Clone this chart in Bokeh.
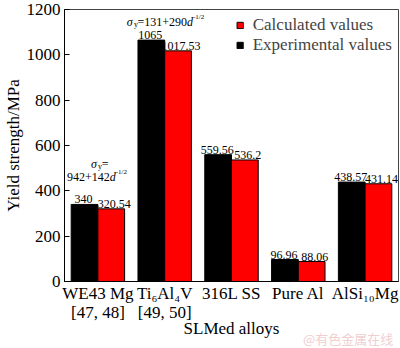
from bokeh.plotting import figure
from bokeh.models import Legend, LegendItem, FixedTicker, Range1d, FactorRange, Div
from bokeh.layouts import column
from bokeh.transform import dodge
from bokeh.core.properties import value
from bokeh.embed import file_html
from bokeh.resources import INLINE

# ---- data ----
categories = ["WE43 Mg", "Ti6Al4V", "316L SS", "Pure Al", "AlSi10Mg"]
tick_labels = ["WE43 Mg\n[47, 48]", "Ti\u2086Al\u2084V\n[49, 50]", "316L SS", "Pure Al", "AlSi\u2081\u2080Mg"]
experimental = [340, 1065, 559.56, 96.96, 438.57]
calculated = [320.54, 1017.53, 536.2, 88.06, 431.14]
y_ticks = [0, 200, 400, 600, 800, 1000, 1200]

FONT = "Liberation Serif"

p = figure(width=400, height=348, x_range=FactorRange(*tick_labels, range_padding=0),
           y_range=Range1d(0, 1200), output_backend="svg", toolbar_location=None,
           min_border_left=58, min_border_right=2, min_border_top=9, min_border_bottom=67)
p.x_range.factor_padding = 0

src = dict(cat=tick_labels, exp=experimental, calc=calculated,
           exp_lab=[f"{v:g}" for v in experimental], calc_lab=[f"{v:g}" for v in calculated])

r_exp = p.vbar(x=dodge("cat", -0.2, range=p.x_range), top="exp", width=0.4, source=src,
               fill_color="black", line_color="black", line_width=1)
r_calc = p.vbar(x=dodge("cat", 0.2, range=p.x_range), top="calc", width=0.4, source=src,
                fill_color="#ff0000", line_color="black", line_width=1)

p.text(x=dodge("cat", -0.2, range=p.x_range), y="exp", text="exp_lab", source=src,
       text_font=value(FONT), text_font_size="12px", text_align="center",
       text_baseline="bottom", x_offset=-1, y_offset=-1, text_color="black")
p.text(x=dodge("cat", 0.2, range=p.x_range), y="calc", text="calc_lab", source=src,
       text_font=value(FONT), text_font_size="12px", text_align="center",
       text_baseline="bottom", x_offset=3, y_offset=-1, text_color="black")

# ---- equations (sigma_y = a + b d^-1/2) ----
W = {"0": .5, "1": .5, "2": .5, "3": .5, "4": .5, "5": .5, "6": .5, "7": .5, "8": .5, "9": .5,
     "=": .564, "+": .564, "-": .333, "/": .278, "σ": .6, "y": .444, "d": .5}

def tw(t, s):
    return sum(W.get(c, .5) for c in t) * s

def equation(cat, yv, x0, y0, parts):
    cx = x0
    for txt, size, style, dy in parts:
        p.text(x=[cat], y=[yv], text=[txt], x_offset=cx, y_offset=y0 + dy,
               text_font=value(FONT), text_font_size=f"{size}px", text_font_style=style,
               text_align="left", text_baseline="alphabetic", text_color="black")
        cx += tw(txt, size)

equation(tick_labels[1], experimental[1], -38, -18,
         [("σ", 12, "italic", 0), ("y", 8, "normal", 2), ("=131+290", 12, "normal", 0),
          ("d", 12, "italic", 0), ("-1/2", 7, "normal", -5)])
equation(tick_labels[0], experimental[0], -7, -40,
         [("σ", 12, "italic", 0), ("y", 8, "normal", 2), ("=", 12, "normal", 0)])
equation(tick_labels[0], experimental[0], -31, -27,
         [("942+142", 12, "normal", 0), ("d", 12, "italic", 0), ("-1/2", 7, "normal", -5)])

# ---- axes ----
p.xgrid.visible = False
p.ygrid.visible = False
p.outline_line_color = "#444444"
p.outline_line_width = 1

p.yaxis.ticker = FixedTicker(ticks=y_ticks)
p.yaxis.minor_tick_line_color = None
p.yaxis.major_tick_in = 5
p.yaxis.major_tick_out = 0
p.yaxis.major_label_standoff = 4
p.yaxis.axis_label = "Yield strength/MPa"
p.yaxis.axis_label_standoff = 1

p.xaxis.major_tick_line_color = None
p.xaxis.minor_tick_line_color = None
p.xaxis.major_tick_in = 0
p.xaxis.major_tick_out = 0
p.xaxis.major_label_standoff = 2
p.xaxis.major_label_text_line_height = 1.0
p.xaxis.axis_label = "SLMed alloys"
p.xaxis.axis_label_standoff = -6

for ax in (p.xaxis, p.yaxis):
    ax.axis_line_color = "black"
    ax.major_label_text_font = FONT
    ax.major_label_text_font_size = "17px"
    ax.major_label_text_color = "black"
    ax.axis_label_text_font = FONT
    ax.axis_label_text_font_size = "17px"
    ax.axis_label_text_font_style = "normal"
    ax.axis_label_text_color = "black"

# ---- legend ----
legend = Legend(items=[LegendItem(label="Calculated values", renderers=[r_calc]),
                       LegendItem(label="Experimental values", renderers=[r_exp])],
                location="top_right", glyph_width=8, glyph_height=8, label_standoff=9,
                spacing=-8, padding=0, margin=6, label_height=17,
                label_text_font=FONT, label_text_font_size="17px",
                border_line_color=None, background_fill_alpha=0)
p.add_layout(legend)

# watermark below the chart, overlapping its bottom edge
mark = Div(text="@有色金属在线", width=100, height=15, margin=(-17, 0, 0, 303),
           styles={"color": "#efcfcf", "font-family": "Noto Sans CJK SC",
                   "font-size": "13px", "white-space": "nowrap", "line-height": "15px"})

open("out.html", "w").write(file_html(column(p, mark, spacing=0), INLINE))
